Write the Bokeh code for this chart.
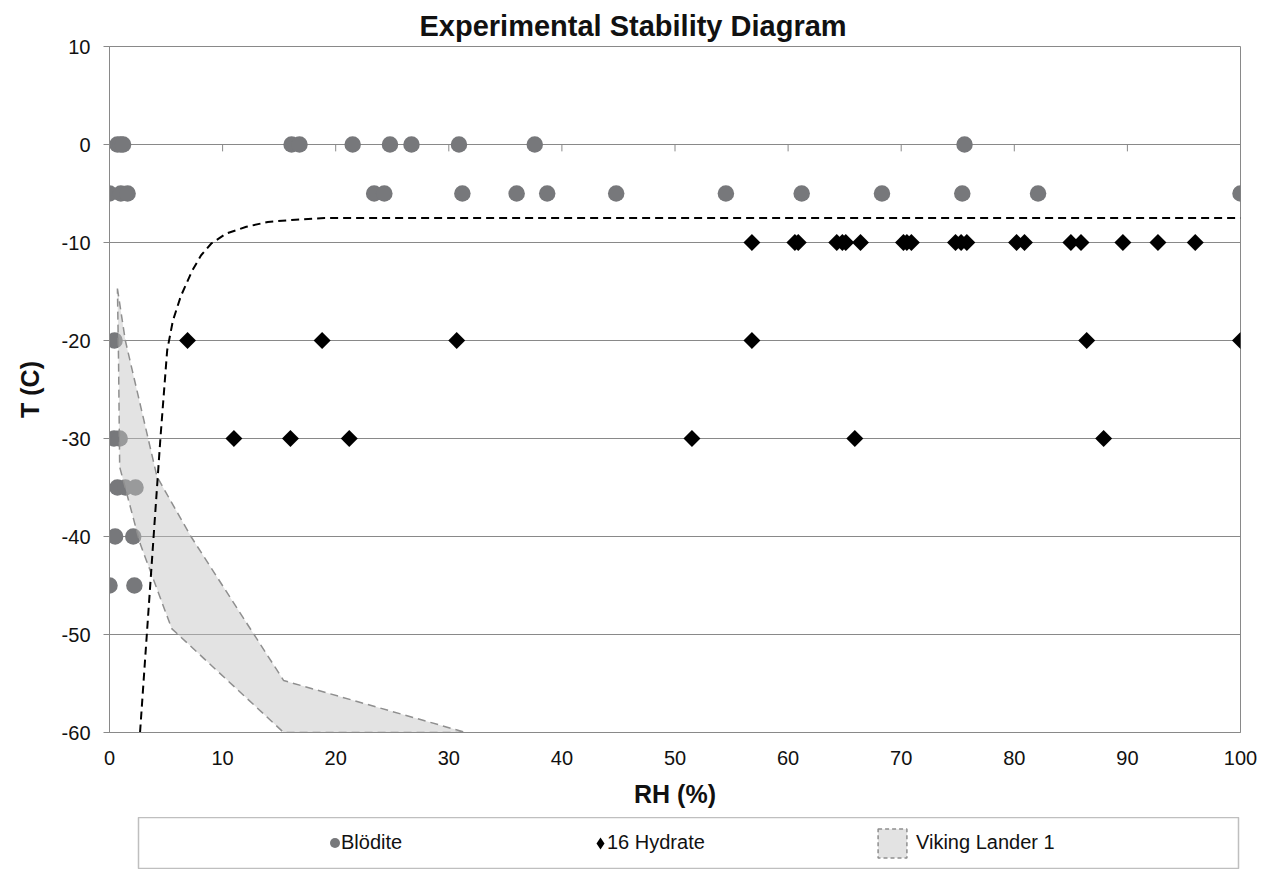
import numpy as np
from bokeh.plotting import figure
from bokeh.models import FixedTicker, Legend, LegendItem, Range1d
from bokeh.layouts import column
from bokeh.embed import file_html
from bokeh.resources import INLINE

# ---------------- data ----------------
title_text = "Experimental Stability Diagram"
x_label = "RH (%)"
y_label = "T (C)"
x_ticks = [0, 10, 20, 30, 40, 50, 60, 70, 80, 90, 100]
y_ticks = [-60, -50, -40, -30, -20, -10, 0, 10]

# Blödite observations
blodite_rh = [0.7, 1.0, 1.2, 16.1, 16.8, 21.5, 24.8, 26.7, 30.9, 37.6, 75.6,
              0.0, 1.0, 1.6, 23.4, 24.3, 31.2, 36.0, 38.7, 44.8, 54.5, 61.2, 68.3, 75.4, 82.1, 100.0,
              0.45,
              0.4, 0.9,
              0.7, 1.4, 2.3,
              0.5, 2.1,
              0.0, 2.2]
blodite_t = [0, 0, 0, 0, 0, 0, 0, 0, 0, 0, 0,
             -5, -5, -5, -5, -5, -5, -5, -5, -5, -5, -5, -5, -5, -5, -5,
             -20,
             -30, -30,
             -35, -35, -35,
             -40, -40,
             -45, -45]

# 16 Hydrate observations
hydrate_rh = [56.8, 60.6, 60.9, 64.3, 64.8, 65.1, 66.4, 70.2, 70.5, 70.9, 74.8, 75.3, 75.8,
              80.2, 80.9, 85.0, 85.9, 89.6, 92.7, 96.0,
              6.9, 18.8, 30.7, 56.8, 86.4, 100.0,
              11.0, 16.0, 21.2, 51.5, 65.9, 87.9]
hydrate_t = [-10] * 20 + [-20] * 6 + [-30] * 6

# Viking Lander 1 envelope
viking_rh = [0.7, 1.4, 4.2, 7.2, 15.4, 31.5, 15.4, 5.5, 2.7, 0.9, 0.8]
viking_t = [-14.7, -20.0, -33.9, -40.0, -54.7, -60.0, -60.0, -49.4, -40.7, -32.9, -22.0]

# stability boundary (dashed)
boundary_rh = [2.7, 3.3, 3.9, 4.5, 5.1, 5.6, 6.3, 7.3, 8.1, 9.0, 10.3, 12.1, 14.0, 16.1, 19.0, 100.0]
boundary_t = [-60, -50, -40, -30, -21, -18, -15.5, -12.9, -11.3, -10.1, -9.1, -8.4, -7.9, -7.7, -7.5, -7.5]

legend_labels = ["Blödite", "16 Hydrate", "Viking Lander 1"]

# ---------------- styling ----------------
FONT = "Liberation Sans"
GRID = "#898989"
BLODITE_COLOR = "#77787b"
VIKING_FILL = "#c3c3c3"
VIKING_LINE = "#8f8f8f"
TEXT = "#111111"

p = figure(width=1272, height=817,
           x_range=Range1d(0, 100), y_range=Range1d(-60, 10),
           output_backend="svg", toolbar_location=None,
           min_border_left=109, min_border_right=32,
           min_border_top=46, min_border_bottom=85)

p.title.text = title_text
p.title.text_font = FONT
p.title.text_font_size = "29px"
p.title.text_font_style = "bold"
p.title.text_color = TEXT
p.title.align = "left"
p.title.offset = 310
p.title.standoff = 10

p.outline_line_color = GRID
p.outline_line_width = 1

p.xaxis.ticker = FixedTicker(ticks=x_ticks)
p.yaxis.ticker = FixedTicker(ticks=y_ticks)
p.yaxis.major_label_overrides = {t: str(t) for t in y_ticks}
p.xaxis.axis_label = x_label
p.yaxis.axis_label = y_label

for ax in (p.xaxis, p.yaxis):
    ax.axis_line_color = GRID
    ax.major_tick_line_color = GRID
    ax.minor_tick_line_color = None
    ax.major_tick_in = 0
    ax.major_label_text_font = FONT
    ax.major_label_text_font_size = "20px"
    ax.major_label_text_color = TEXT
    ax.axis_label_text_font = FONT
    ax.axis_label_text_font_size = "25px"
    ax.axis_label_text_font_style = "bold"
    ax.axis_label_text_color = TEXT

p.xaxis.major_tick_out = 0
p.xaxis.major_label_standoff = 18
p.xaxis.axis_label_standoff = 12
p.yaxis.major_tick_out = 6
p.yaxis.major_label_standoff = 13
p.yaxis.axis_label_standoff = 15

p.xgrid.visible = False
p.ygrid.grid_line_color = GRID
p.ygrid.grid_line_width = 1

# tick marks on the horizontal axis, which crosses at T = 0
p.segment(x0=x_ticks, y0=[0] * len(x_ticks), x1=x_ticks, y1=[-0.7] * len(x_ticks),
          line_color=GRID, line_width=1)

p.scatter(blodite_rh, blodite_t, marker="circle", size=16.5,
          fill_color=BLODITE_COLOR, line_color=None)

p.patch(viking_rh, viking_t, fill_color=VIKING_FILL, fill_alpha=0.46,
        line_color=VIKING_LINE, line_width=1.5, line_dash="8 5")

p.line(boundary_rh, boundary_t, line_color="black", line_width=2, line_dash="8 5")

p.scatter(hydrate_rh, hydrate_t, marker="square", angle=np.pi / 4, size=12,
          fill_color="black", line_color=None)

# ---------------- legend box (separate strip below the chart) ----------------
lg = figure(width=1241, height=52,
            x_range=Range1d(1000, 1001), y_range=Range1d(1000, 1001),
            output_backend="svg", toolbar_location=None,
            x_axis_location=None, y_axis_location=None,
            min_border_left=0, min_border_right=0, min_border_top=0, min_border_bottom=0)
lg.grid.visible = False
lg.outline_line_color = "#bfbfbf"
lg.outline_line_width = 1.5
lg.margin = (0, 0, 0, 29)

# legend keys (their data lie outside this strip's ranges, only the keys show)
k1 = lg.scatter(blodite_rh, blodite_t, marker="circle",
                fill_color=BLODITE_COLOR, line_color=None)
k2 = lg.scatter(hydrate_rh, hydrate_t, marker="diamond",
                fill_color="black", line_color=None)
k3 = lg.patch(viking_rh, viking_t, fill_color=VIKING_FILL, fill_alpha=0.46,
              line_color=VIKING_LINE, line_width=1.5, line_dash="4 3")
k_none = lg.scatter(hydrate_rh, hydrate_t, marker="circle",
                    fill_alpha=0, line_alpha=0)


def mk_legend(label, rend, loc, gw, gh, standoff=0):
    return Legend(items=[LegendItem(label=label, renderers=[rend])], location=loc,
                  orientation="horizontal", glyph_width=gw, glyph_height=gh,
                  label_standoff=standoff, padding=0, margin=0,
                  border_line_alpha=0, background_fill_alpha=0,
                  label_text_font=FONT, label_text_font_size="20px",
                  label_text_color=TEXT)


# keys
lg.add_layout(mk_legend(" ", k1, (184, 14), 25, 25))
lg.add_layout(mk_legend(" ", k2, (447, 11), 30, 30))
lg.add_layout(mk_legend(" ", k3, (736, 8), 36, 36))
# labels
lg.add_layout(mk_legend(legend_labels[0], k_none, (202, 14), 1, 25))
lg.add_layout(mk_legend(legend_labels[1], k_none, (468, 14), 1, 25))
lg.add_layout(mk_legend(legend_labels[2], k_none, (777, 14), 1, 25))

layout = column(p, lg)
layout.spacing = 0

open("out.html", "w").write(file_html(layout, INLINE))
